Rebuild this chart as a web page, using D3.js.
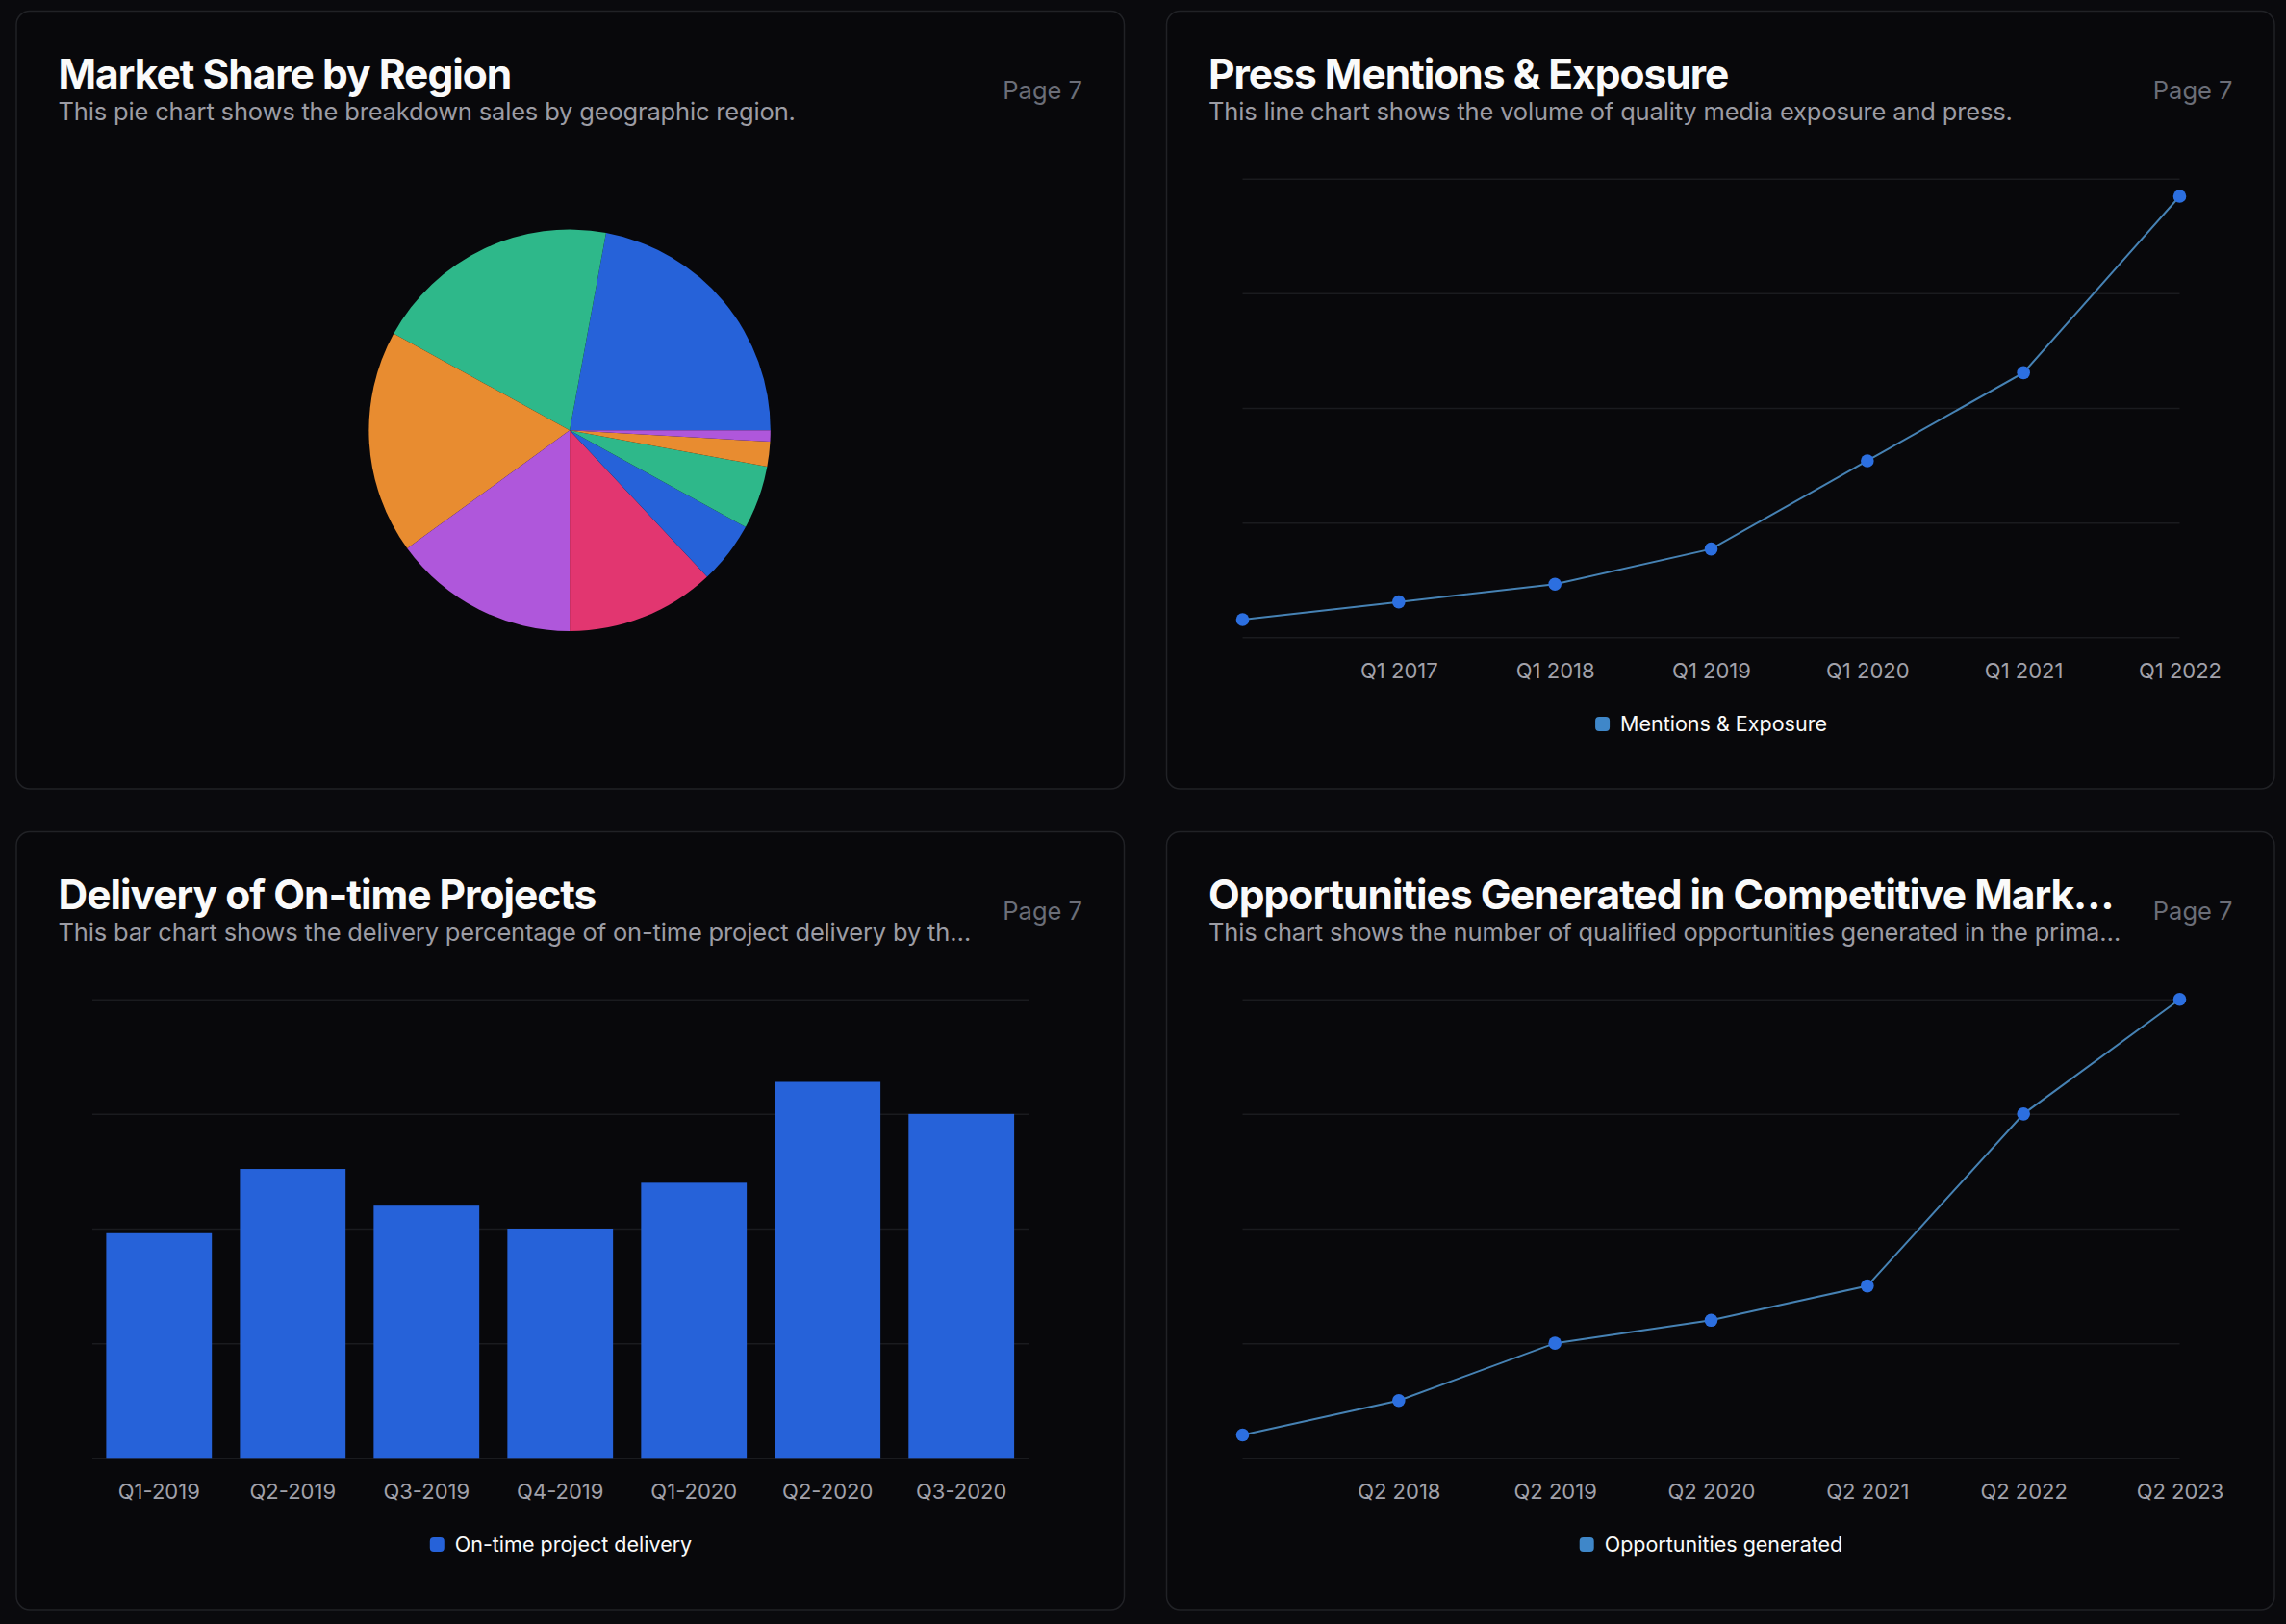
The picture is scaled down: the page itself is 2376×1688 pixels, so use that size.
<!DOCTYPE html>
<html>
<head>
<meta charset="utf-8">
<script src="https://cdn.jsdelivr.net/npm/d3@7"></script>
<style>
  html, body { margin: 0; background: #0a0a0d; }
  svg { display: block; font-family: Inter, sans-serif; }
</style>
</head>
<body>
<script>
// values
var regionShare = [22.1, 19.9, 18, 15, 12, 5, 5.1, 2, 0.9];
var regionColors = ["#2662d9", "#2eb88a", "#e88c30", "#af57db", "#e23670", "#2662d9", "#2eb88a", "#e88c30", "#af57db"];

var mentionQuarters = ["Q1 2016", "Q1 2017", "Q1 2018", "Q1 2019", "Q1 2020", "Q1 2021", "Q1 2022"];
var mentionValues = [1, 2, 3, 5, 10, 15, 25];
var mentionMax = 26;

var deliveryQuarters = ["Q1-2019", "Q2-2019", "Q3-2019", "Q4-2019", "Q1-2020", "Q2-2020", "Q3-2020"];
var deliveryValues = [49, 63, 55, 50, 60, 82, 75];
var deliveryMax = 100;

var opportunityQuarters = ["Q2 2017", "Q2 2018", "Q2 2019", "Q2 2020", "Q2 2021", "Q2 2022", "Q2 2023"];
var opportunityValues = [2, 5, 10, 12, 15, 30, 40];
var opportunityMax = 40;

var gridSteps = [0, 0.25, 0.5, 0.75, 1]; // share of the y domain

var width = 2376, height = 1688;
var panelW = 1151.5, panelH = 808.5;
var plot = {left: 79.5, right: 1053.5, top: 174.7, bottom: 651.3}; // inside a panel

var color = {
  border: "#212226", grid: "#1a1b1f", title: "#fafafa", sub: "#9c9ca4",
  page: "#6b6e78", tick: "#a1a1aa", legend: "#fafafa",
  line: "#4682b4", dot: "#2c6fe0", bar: "#2662d9", lineKey: "#3f87c9"
};

var svg = d3.select("body").append("svg")
  .attr("width", width)
  .attr("height", height);

function makePanel(x, y, title, sub) {
  var g = svg.append("g").attr("transform", "translate(" + x + "," + y + ")");
  g.append("rect")
    .attr("x", 0.5).attr("y", 0.5)
    .attr("width", panelW).attr("height", panelH)
    .attr("rx", 14)
    .attr("fill", "#08080b")
    .attr("stroke", color.border)
    .attr("stroke-width", 1.5);
  g.append("text").attr("x", 44).attr("y", 81)
    .attr("fill", color.title)
    .attr("font-size", 42.5).attr("font-weight", 700)
    .attr("letter-spacing", "-1px")
    .text(title);
  g.append("text").attr("x", 44).attr("y", 114)
    .attr("fill", color.sub)
    .attr("font-size", 25.5)
    .attr("letter-spacing", "-0.17px")
    .text(sub);
  g.append("text").attr("x", 1108.5).attr("y", 92)
    .attr("text-anchor", "end")
    .attr("fill", color.page)
    .attr("font-size", 25.5)
    .text("Page 7");
  return g;
}

function drawGrid(g, y, max) {
  var grid = g.append("g")
    .attr("transform", "translate(" + plot.left + ",0)")
    .call(d3.axisLeft(y)
      .tickValues(gridSteps.map(function (s) { return s * max; }))
      .tickSize(-(plot.right - plot.left))
      .tickFormat(""));
  grid.select(".domain").remove();
  grid.selectAll("line").attr("stroke", color.grid).attr("stroke-width", 1.5);
}

function drawXAxis(g, x, labels) {
  var axis = g.append("g")
    .attr("transform", "translate(0," + plot.bottom + ")")
    .call(d3.axisBottom(x).tickValues(labels).tickSize(0).tickPadding(27));
  axis.select(".domain").remove();
  axis.selectAll("text")
    .attr("fill", color.tick)
    .attr("font-family", "Inter, sans-serif")
    .attr("font-size", 22);
}

function drawLegend(g, label, swatch) {
  var key = g.append("g");
  var text = key.append("text").attr("x", 26).attr("y", 749)
    .attr("fill", color.legend)
    .attr("font-size", 21.5)
    .text(label);
  key.append("rect")
    .attr("x", 0).attr("y", 734)
    .attr("width", 15).attr("height", 15).attr("rx", 4)
    .attr("fill", swatch);
  var w = 26 + text.node().getComputedTextLength();
  key.attr("transform", "translate(" + ((plot.left + plot.right - w) / 2) + ",0)");
}

function lineChart(g, labels, values, max, legend) {
  var x = d3.scalePoint().domain(labels).range([plot.left, plot.right]);
  var y = d3.scaleLinear().domain([0, max]).range([plot.bottom, plot.top]);
  drawGrid(g, y, max);
  drawXAxis(g, x, labels.slice(1)); // the first label is not shown

  var line = d3.line()
    .x(function (d, i) { return x(labels[i]); })
    .y(function (d) { return y(d); });
  g.append("path").datum(values)
    .attr("d", line)
    .attr("fill", "none")
    .attr("stroke", color.line)
    .attr("stroke-width", 2);
  g.selectAll("circle").data(values).enter().append("circle")
    .attr("cx", function (d, i) { return x(labels[i]); })
    .attr("cy", function (d) { return y(d); })
    .attr("r", 6.8)
    .attr("fill", color.dot);
  drawLegend(g, legend, color.lineKey);
}

function barChart(g, labels, values, max, legend) {
  var x = d3.scaleBand().domain(labels).range([plot.left + 0.5, plot.right - 2])
    .paddingInner(0.21).paddingOuter(0.1);
  var y = d3.scaleLinear().domain([0, max]).range([plot.bottom, plot.top]);
  drawGrid(g, y, max);
  drawXAxis(g, x, labels);
  g.selectAll(".bar").data(values).enter().append("rect")
    .attr("class", "bar")
    .attr("x", function (d, i) { return x(labels[i]); })
    .attr("y", function (d) { return y(d); })
    .attr("width", x.bandwidth())
    .attr("height", function (d) { return plot.bottom - y(d); })
    .attr("fill", color.bar);
  drawLegend(g, legend, color.bar);
}

function pieChart(g, values, colors) {
  // slices run counter-clockwise from 3 o'clock
  var pie = d3.pie().sort(null)
    .startAngle(Math.PI / 2)
    .endAngle(Math.PI / 2 - 2 * Math.PI);
  var arc = d3.arc().innerRadius(0).outerRadius(208.7);
  g.append("g")
    .attr("transform", "translate(575.6,436.3)")
    .selectAll("path").data(pie(values)).enter().append("path")
    .attr("d", arc)
    .attr("fill", function (d, i) { return colors[i]; });
}

var col1 = 16.5, col2 = 1212, row1 = 11, row2 = 864;

var p1 = makePanel(col1, row1, "Market Share by Region", "This pie chart shows the breakdown sales by geographic region.");
pieChart(p1, regionShare, regionColors);

var p2 = makePanel(col2, row1, "Press Mentions & Exposure", "This line chart shows the volume of quality media exposure and press.");
lineChart(p2, mentionQuarters, mentionValues, mentionMax, "Mentions & Exposure");

var p3 = makePanel(col1, row2, "Delivery of On-time Projects", "This bar chart shows the delivery percentage of on-time project delivery by th…");
barChart(p3, deliveryQuarters, deliveryValues, deliveryMax, "On-time project delivery");

var p4 = makePanel(col2, row2, "Opportunities Generated in Competitive Mark…", "This chart shows the number of qualified opportunities generated in the prima…");
lineChart(p4, opportunityQuarters, opportunityValues, opportunityMax, "Opportunities generated");
</script>
</body>
</html>
